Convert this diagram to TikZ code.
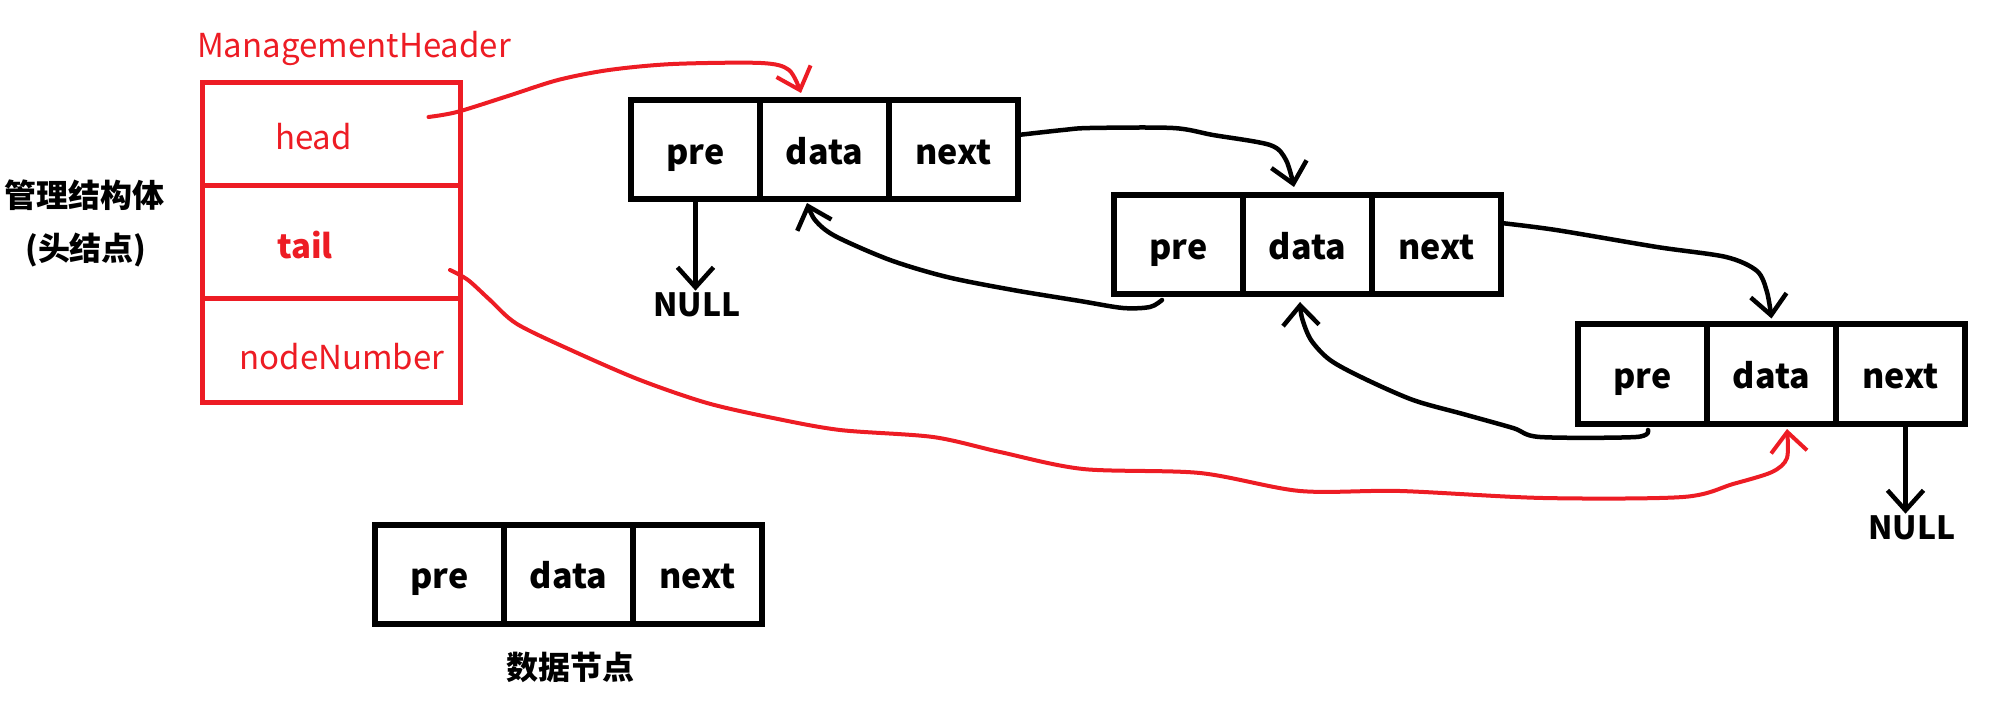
\documentclass[tikz,border=0pt]{standalone}
\usepackage{fontspec}
\setmainfont{Noto Sans CJK SC}
\usetikzlibrary{arrows.meta, positioning}
\definecolor{paintRed}{RGB}{237,28,36}
\definecolor{mainBlack}{gray}{0.0}

\tikzset{
  cell/.style={draw=mainBlack, line width=6pt, minimum width=129pt, minimum height=99pt,
    outer sep=0pt, inner sep=0pt, text height=34pt, text depth=5pt,
    font=\fontsize{34}{40}\selectfont\bfseries},
  hcell/.style={draw=paintRed, line width=5pt, minimum width=258pt, outer sep=0pt, inner sep=0pt},
  rtext/.style={text=paintRed, inner sep=0pt, font=\fontsize{33}{39}\selectfont},
  btext/.style={text=mainBlack, inner sep=2pt, font=\fontsize{32}{38}\selectfont\bfseries},
  linkarrow/.style={draw=mainBlack, line width=4.5pt, line cap=round, line join=round,
    -{Straight Barb[length=20pt, width=36pt]}},
  redarrow/.style={linkarrow, draw=paintRed, line width=4pt}
}

\begin{document}
\begin{tikzpicture}[x=1pt, y=-1pt]
    \useasboundingbox (0,0) rectangle (1990,703);

    % header struct
    \node[rtext] (htitle) at (354,48) {ManagementHeader};
    \node[hcell, minimum height=103pt] (hhead) at (331.5,134) {};
    \node[hcell, minimum height=113pt, below=0pt of hhead] (htail) {};
    \node[hcell, minimum height=104pt, below=0pt of htail] (hnum) {};
    \node[rtext] (lhead) at ([shift={(-18,3)}]hhead.center) {head};
    \node[rtext, font=\fontsize{33}{39}\selectfont\bfseries] (ltail) at ([shift={(-26.5,3)}]htail.center) {tail};
    \node[rtext] (lnum) at ([shift={(10.5,6.5)}]hnum.center) {nodeNumber};

    \node[btext] (struct) at (85,195) {管理结构体};
    \node[btext] (headnode) at (86,250) {(头结点)};

    % data nodes
    \foreach \n/\x/\y in {n1/695.5/150, n2/1178.5/245, n3/1642.5/374, demo/439.5/574} {
        \node[cell] (\n-pre) at (\x,\y) {pre};
        \node[cell, right=0pt of \n-pre] (\n-data) {data};
        \node[cell, right=0pt of \n-data] (\n-next) {next};
    }
    \node[btext] (caption) at (570,667) {数据节点};

    \node[btext] (null1) at (697,305) {NULL};
    \node[btext] (null3) at (1912,528) {NULL};

    % end points of the hand drawn links
    \coordinate (headstart) at ([shift={(-32,-17)}]hhead.east);
    \coordinate (headtip) at ([shift={(-23.5,-7.5)}]n1-data.north);
    \coordinate (tailstart) at ([shift={(-10.5,28)}]htail.east);
    \coordinate (tailtip) at ([shift={(15.5,5.5)}]n3-data.south);
    \coordinate (next1) at ([shift={(0,-15)}]n1-next.east);
    \coordinate (next1tip) at ([shift={(-13.5,-8.5)}]n2-data.north);
    \coordinate (next2) at ([shift={(0,-22)}]n2-next.east);
    \coordinate (next2tip) at ([shift={(0,-6)}]n3-data.north);
    \coordinate (pre2) at ([shift={(-16.5,5.5)}]n2-pre.south);
    \coordinate (pre2tip) at ([shift={(-17.5,3.5)}]n1-data.south);
    \coordinate (pre3) at ([shift={(5.5,6.5)}]n3-pre.south);
    \coordinate (pre3tip) at ([shift={(-7.5,7.5)}]n2-data.south);

    % head / tail pointers
    \draw[redarrow] plot[smooth, tension=0.5] coordinates {(headstart) (457,112) (508,96) (558,80) (609,70) (673,64) (761,63) (789,70) (headtip)};
    \draw[redarrow] plot[smooth, tension=0.5] coordinates {(tailstart) (468,280) (490,300) (517,324) (573,351) (640,380) (707,403) (773,418) (840,430) (933,437) (1000,452) (1083,469) (1200,473) (1300,491) (1400,491) (1543,498) (1683,497) (1733,484) (1772,472) (1787,458) (tailtip)};

    % next links
    \draw[linkarrow] plot[smooth, tension=0.5] coordinates {(next1) (1063,130) (1090,128) (1173,128) (1213,135) (1270,145) (1286,160) (next1tip)};
    \draw[linkarrow] plot[smooth, tension=0.5] coordinates {(next2) (1556,230) (1657,247) (1726,257) (1757,271) (1767,292) (next2tip)};

    % pre links
    \draw[linkarrow] plot[smooth, tension=0.5] coordinates {(pre2) (1150,307) (1123,308) (1080,301) (1013,290) (947,277) (890,260) (835,236) (815,220) (pre2tip)};
    \draw[linkarrow] plot[smooth, tension=0.5] coordinates {(pre3) (1636,437) (1540,437) (1513,428) (1463,414) (1413,400) (1363,378) (1330,360) (1311,340) (1302,318) (pre3tip)};

    % NULL pointers
    \draw[linkarrow] (n1-pre.south) -- (n1-pre.south |- null1.north);
    \draw[linkarrow] ([xshift=5pt]n3-next.south) -- ([xshift=5pt]n3-next.south |- null3.north);
\end{tikzpicture}
\end{document}
